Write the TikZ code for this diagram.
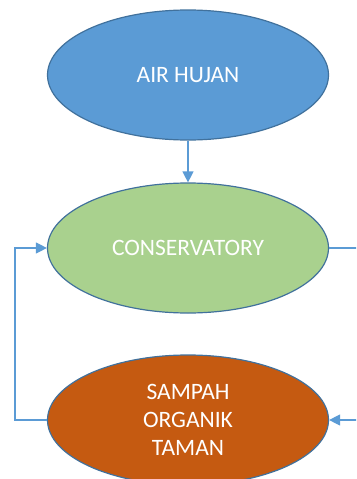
\documentclass[tikz,border=0pt]{standalone}
\usepackage{fontspec}
\setmainfont{Carlito}
\usetikzlibrary{arrows.meta,shapes.geometric}
\definecolor{obblue}{HTML}{5B9BD5}
\definecolor{obgreen}{HTML}{A9D18E}
\definecolor{oborange}{HTML}{C55A11}
\definecolor{obedge}{HTML}{41719C}
\tikzset{
  x=1pt,y=-1pt,
  blob/.style={ellipse,draw=obedge,line width=1.2pt,minimum width=281pt,minimum height=130pt,inner sep=0pt,
    text=white,font=\fontsize{23.5}{28}\selectfont,align=center},
  conn/.style={draw=obblue,line width=1.2pt,-{Triangle[length=11pt,width=11pt]}},
  plain/.style={draw=obblue,line width=1.2pt}
}
\begin{document}
\begin{tikzpicture}
\useasboundingbox (0,0) rectangle (356,479);
\begin{scope}
\clip (0,0) rectangle (356,479);
\node[blob,fill=obblue] (air) at (188,75) {AIR HUJAN};
\node[blob,fill=obgreen] (cons) at (188,248) {CONSERVATORY};
\node[blob,fill=oborange] (samp) at (188,420) {SAMPAH\\ORGANIK\\TAMAN};
\coordinate (lb) at (15,420);
\coordinate (lt) at (15,248);
\coordinate (rt) at (360,248);
\coordinate (rb) at (360,420);
\draw[conn] (air.south) -- (cons.north);
\draw[conn] (samp.west) -- (lb) -- (lt) -- (cons.west);
\draw[plain] (cons.east) -- (rt);
\draw[conn] (rb) -- (samp.east);
\end{scope}
\end{tikzpicture}
\end{document}
